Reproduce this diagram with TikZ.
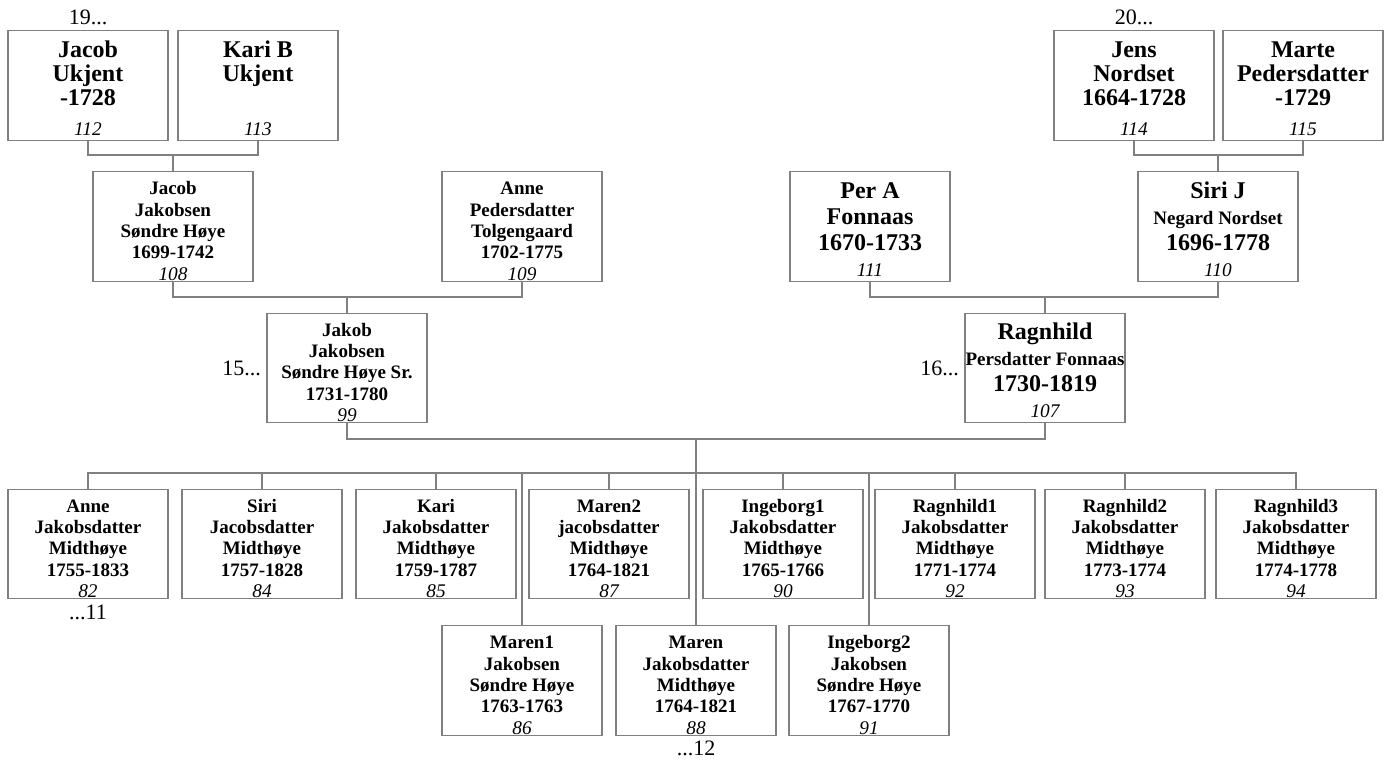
\documentclass[tikz,border=0pt]{standalone}
\usepackage{fontspec}
\setmainfont{Liberation Serif}
\usetikzlibrary{positioning}
\definecolor{linegray}{RGB}{128,128,128}
\newcommand{\pnum}[1]{{\mdseries\itshape\fontsize{14.5}{16}\selectfont #1}}
\newcommand{\subline}[1]{{\fontsize{14.25}{16}\selectfont #1}}
\newcommand{\headstrut}{\rule{0pt}{16.5pt}}

\begin{document}
\begin{tikzpicture}[
  x=0.75pt, y=-0.75pt,
  person/.style={draw=linegray, line width=0.8pt, minimum width=120pt, minimum height=82pt, inner sep=0pt, align=center},
  big/.style={person, font=\fontsize{18}{18}\selectfont\bfseries},
  mid/.style={person, font=\fontsize{18}{19.5}\selectfont\bfseries},
  small/.style={person, font=\fontsize{14.25}{16}\selectfont\bfseries},
  tag/.style={inner sep=0pt, font=\fontsize{16.5}{16.5}\selectfont},
  link/.style={draw=linegray, line width=0.8pt}
]
\useasboundingbox (0,0) rectangle (1392,762);

% great-grandparents
\node[big] (p112) at (88,85.5) {\headstrut Jacob\\Ukjent\\-1728\\[5pt]\pnum{112}};
\node[big] (p113) at (258,85.5) {\headstrut Kari B\\Ukjent\\\mbox{}\\[5pt]\pnum{113}};
\node[big] (p114) at (1134,85.5) {\headstrut Jens\\Nordset\\1664-1728\\[5pt]\pnum{114}};
\node[big] (p115) at (1303,85.5) {\headstrut Marte\\Pedersdatter\\-1729\\[5pt]\pnum{115}};
\node[tag, above=4pt of p112] (t19) {19...};
\node[tag, above=4pt of p114] (t20) {20...};

% grandparents
\node[small] (p108) at (173,226.5) {\headstrut Jacob\\Jakobsen\\Søndre Høye\\1699-1742\\\pnum{108}};
\node[small] (p109) at (522,226.5) {\headstrut Anne\\Pedersdatter\\Tolgengaard\\1702-1775\\\pnum{109}};
\node[mid] (p111) at (870,226.5) {\headstrut Per A\\Fonnaas\\1670-1733\\\pnum{111}};
\node[mid] (p110) at (1218,226.5) {\headstrut Siri J\\\subline{Negard Nordset}\\1696-1778\\\pnum{110}};

% parents
\node[small] (p99) at (347,368) {\headstrut Jakob\\Jakobsen\\Søndre Høye Sr.\\1731-1780\\\pnum{99}};
\node[mid] (p107) at (1045,368) {\headstrut Ragnhild\\\subline{Persdatter Fonnaas}\\1730-1819\\\pnum{107}};
\node[tag, left=4pt of p99] (t15) {15...};
\node[tag, left=4pt of p107] (t16) {16...};

% children, first row
\node[small] (p82) at (88,544) {\headstrut Anne\\Jakobsdatter\\Midthøye\\1755-1833\\\pnum{82}};
\node[small] (p84) at (262,544) {\headstrut Siri\\Jacobsdatter\\Midthøye\\1757-1828\\\pnum{84}};
\node[small] (p85) at (436,544) {\headstrut Kari\\Jakobsdatter\\Midthøye\\1759-1787\\\pnum{85}};
\node[small] (p87) at (609,544) {\headstrut Maren2\\jacobsdatter\\Midthøye\\1764-1821\\\pnum{87}};
\node[small] (p90) at (783,544) {\headstrut Ingeborg1\\Jakobsdatter\\Midthøye\\1765-1766\\\pnum{90}};
\node[small] (p92) at (955,544) {\headstrut Ragnhild1\\Jakobsdatter\\Midthøye\\1771-1774\\\pnum{92}};
\node[small] (p93) at (1125,544) {\headstrut Ragnhild2\\Jakobsdatter\\Midthøye\\1773-1774\\\pnum{93}};
\node[small] (p94) at (1296,544) {\headstrut Ragnhild3\\Jakobsdatter\\Midthøye\\1774-1778\\\pnum{94}};

% children, second row
\node[small] (p86) at (522,680.5) {\headstrut Maren1\\Jakobsen\\Søndre Høye\\1763-1763\\\pnum{86}};
\node[small] (p88) at (696,680.5) {\headstrut Maren\\Jakobsdatter\\Midthøye\\1764-1821\\\pnum{88}};
\node[small] (p91) at (869,680.5) {\headstrut Ingeborg2\\Jakobsen\\Søndre Høye\\1767-1770\\\pnum{91}};
\node[tag, below=4pt of p82] (t11) {...11};
\node[tag, below=4pt of p88] (t12) {...12};

% couples
\coordinate (u1) at (173,155);
\coordinate (u2) at (1218,155);
\coordinate (u3) at (347,297);
\coordinate (u4) at (1045,297);
\coordinate (fam) at (696,439);
\coordinate (kids) at (696,473);
\draw[link] (p112.south) |- (u1) -| (p113.south);
\draw[link] (u1) -- (p108.north);
\draw[link] (p114.south) |- (u2) -| (p115.south);
\draw[link] (u2) -- (p110.north);
\draw[link] (p108.south) |- (u3) -| (p109.south);
\draw[link] (u3) -- (p99.north);
\draw[link] (p111.south) |- (u4) -| (p110.south);
\draw[link] (u4) -- (p107.north);
\draw[link] (p99.south) |- (fam) -| (p107.south);
\draw[link] (fam) -- (p88.north);
\draw[link] (p82.north) |- (kids) -| (p94.north);
\foreach \c in {p84,p85,p87,p90,p92,p93,p86,p91}
  \draw[link] (\c.north) -- (\c.north |- kids);
\end{tikzpicture}
\end{document}
